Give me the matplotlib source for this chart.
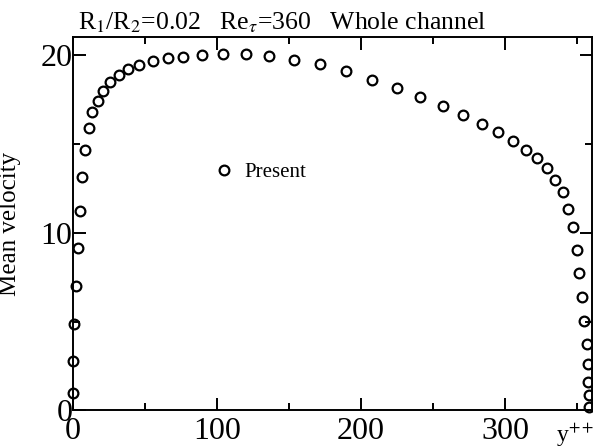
import numpy as np
import matplotlib
matplotlib.use('Agg')
from matplotlib import pyplot as plt
from matplotlib.ticker import FixedLocator

plt.rcParams['font.family'] = ['Liberation Serif', 'DejaVu Serif']
plt.rcParams['mathtext.fontset'] = 'stix'

# mean velocity across the whole channel
y_pp = [0.0, 0.2, 0.7, 2.1, 3.7, 4.9, 6.7, 8.8, 11.1, 13.7, 17.5, 21.0, 26.1,
        32.1, 38.8, 46.4, 55.6, 66.0, 76.4, 89.9, 104.6, 120.4, 136.5, 153.2,
        171.9, 189.7, 207.7, 224.7, 241.2, 256.6, 270.9, 283.6, 295.2, 305.6,
        314.4, 322.0, 328.7, 334.7, 339.8, 343.7, 346.7, 349.5, 351.4, 353.3,
        354.8, 356.4, 357.1, 357.4, 357.8, 358.3]
u_mean = [0.95, 2.77, 4.85, 7.0, 9.16, 11.25, 13.16, 14.68, 15.88, 16.78, 17.43,
          18.0, 18.48, 18.9, 19.2, 19.45, 19.7, 19.83, 19.9, 20.0, 20.09, 20.06,
          19.96, 19.74, 19.49, 19.12, 18.63, 18.15, 17.67, 17.15, 16.65, 16.12,
          15.65, 15.15, 14.68, 14.19, 13.63, 13.0, 12.28, 11.35, 10.35, 9.04,
          7.75, 6.38, 5.02, 3.72, 2.6, 1.6, 0.86, 0.2]

x_ticks = [0, 100, 200, 300]
y_ticks = [0, 10, 20]

fig = plt.figure(figsize=(5.93, 4.48), dpi=100)
ax = fig.add_axes([0.1223, 0.0842, 0.8757, 0.8321])

ax.plot(y_pp, u_mean, 'o', mfc='none', mec='black', ms=7, mew=1.6,
        clip_on=False, label='Present')

ax.set_xlim(0, 360)
ax.set_ylim(0, 21)
ax.xaxis.set_major_locator(FixedLocator(x_ticks))
ax.xaxis.set_minor_locator(FixedLocator([50, 150, 250, 350]))
ax.yaxis.set_major_locator(FixedLocator(y_ticks))
ax.yaxis.set_minor_locator(FixedLocator([5, 15]))

for s in ax.spines.values():
    s.set_linewidth(1.4)
ax.tick_params(which='both', direction='in', top=True, right=True, width=1.4,
               labelsize=23)
ax.tick_params(which='major', length=9)
ax.tick_params(which='minor', length=5)
ax.tick_params(axis='x', pad=5)
ax.tick_params(axis='y', pad=0)

ax.set_ylabel('Mean velocity', fontsize=18)
ax.yaxis.set_label_coords(-0.10, 0.5)

fig.text(0.1315, 0.935, r'R$_1$/R$_2$=0.02   Re$_\tau$=360   Whole channel',
         fontsize=18.5, va='baseline', ha='left')
fig.text(0.937, 0.015, r'y$^{++}$', fontsize=17, va='baseline', ha='left')

ax.legend(loc='center left', bbox_to_anchor=(0.2797, 0.639), frameon=False,
          fontsize=15, handlelength=0.6, handletextpad=0.7, borderpad=0,
          borderaxespad=0, numpoints=1)

fig.savefig('out.png', dpi=100)
